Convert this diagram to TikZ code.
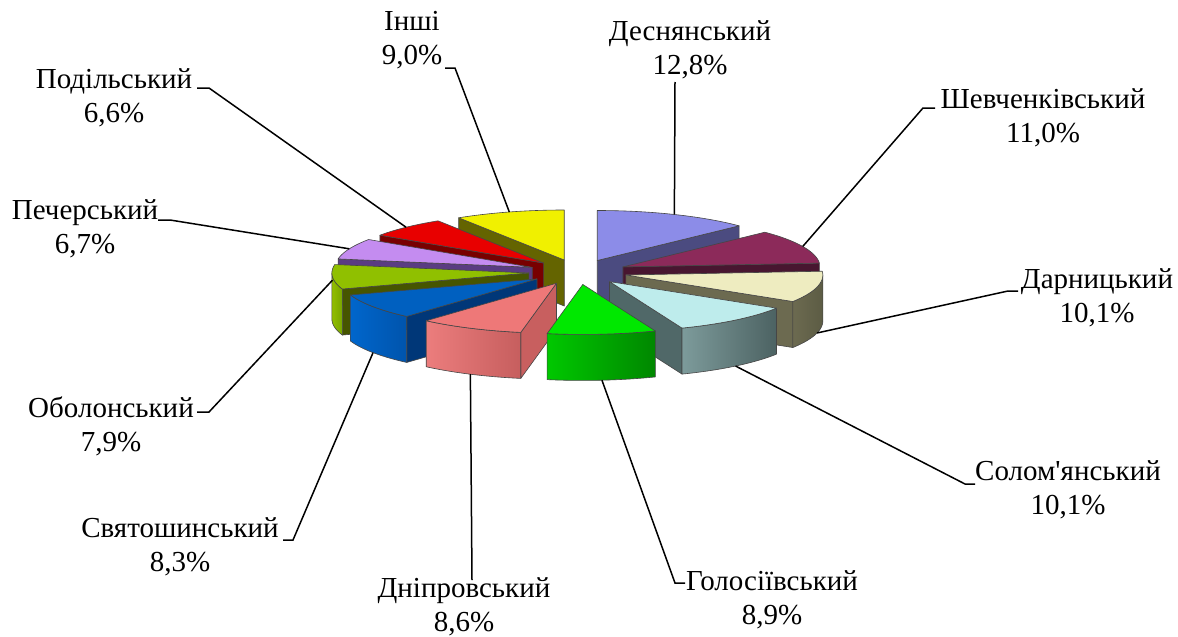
\documentclass[tikz,border=0pt]{standalone}
\usepackage{fontspec}
\setmainfont{Liberation Serif}
\newcommand\straightapos{{\XeTeXglyph\the\XeTeXcharglyph"27\relax}}
\definecolor{edge}{RGB}{70,70,70}
\definecolor{desTop}{RGB}{140,140,232}\definecolor{desSide}{RGB}{75,75,128}
\definecolor{shevTop}{RGB}{140,42,90}\definecolor{shevSide}{RGB}{72,22,48}
\definecolor{darTop}{RGB}{238,236,192}\definecolor{darSide}{RGB}{108,106,80}\definecolor{darWallR}{RGB}{92,92,68}
\definecolor{solTop}{RGB}{190,236,236}\definecolor{solSide}{RGB}{80,104,104}\definecolor{solWallL}{RGB}{125,155,155}\definecolor{solWallR}{RGB}{76,98,98}
\definecolor{golTop}{RGB}{0,232,0}\definecolor{golWallL}{RGB}{0,200,0}\definecolor{golWallR}{RGB}{0,135,0}
\definecolor{dniTop}{RGB}{238,120,120}\definecolor{dniSide}{RGB}{200,95,95}\definecolor{dniWallL}{RGB}{236,125,125}\definecolor{dniWallR}{RGB}{198,94,94}
\definecolor{svyTop}{RGB}{0,96,192}\definecolor{svySide}{RGB}{0,55,120}\definecolor{svyWallL}{RGB}{0,102,204}\definecolor{svyWallR}{RGB}{0,84,172}
\definecolor{oboTop}{RGB}{144,192,0}\definecolor{oboSide}{RGB}{70,85,0}\definecolor{oboWallL}{RGB}{146,190,0}\definecolor{oboWallR}{RGB}{120,165,0}
\definecolor{pechTop}{RGB}{196,140,240}\definecolor{pechSide}{RGB}{90,60,130}
\definecolor{podTop}{RGB}{232,0,0}\definecolor{podSide}{RGB}{120,0,0}
\definecolor{inTop}{RGB}{240,240,0}\definecolor{inSide}{RGB}{100,100,0}
\tikzset{
  face/.style={draw=edge,line width=0.6pt,line join=round},
  lbl/.style={font=\fontsize{29}{34}\selectfont,align=center,inner sep=0pt},
  leader/.style={draw=black,line width=1.5pt}
}
\def\cx{578}\def\cy{272}\def\rx{197}\def\ry{50}\def\h{46}\def\ex{0.25}
% #1 start, #2 end, #3 top, #4 side face, #5 wall left, #6 wall right, #7 coord name, #8 leader fraction
\newcommand\pieslice[8]{%
  \pgfmathsetmacro\mm{(#1+#2)/2}%
  \pgfmathsetmacro\ax{\cx+\ex*\rx*sin(\mm)}%
  \pgfmathsetmacro\ay{\cy-\ex*\ry*cos(\mm)}%
  \pgfmathparse{sin(#1)<-0.001?1:0}%
  \ifnum\pgfmathresult=1
    \fill[#4,face] (\ax,\ay) -- ({\ax+\rx*sin(#1)},{\ay-\ry*cos(#1)}) -- ++(0,\h) -- ({\ax},{\ay+\h}) -- cycle;
  \fi
  \pgfmathparse{sin(#2)>0.001?1:0}%
  \ifnum\pgfmathresult=1
    \fill[#4,face] (\ax,\ay) -- ({\ax+\rx*sin(#2)},{\ay-\ry*cos(#2)}) -- ++(0,\h) -- ({\ax},{\ay+\h}) -- cycle;
  \fi
  \pgfmathsetmacro\wa{max(#1,90)}%
  \pgfmathsetmacro\wb{min(#2,270)}%
  \pgfmathparse{\wb>\wa+0.01?1:0}%
  \ifnum\pgfmathresult=1
    \shadedraw[left color=#5,right color=#6,face] plot[domain=\wa:\wb,samples=40] ({\ax+\rx*sin(\x)},{\ay-\ry*cos(\x)}) -- plot[domain=\wb:\wa,samples=40] ({\ax+\rx*sin(\x)},{\ay+\h-\ry*cos(\x)}) -- cycle;
  \fi
  \fill[#3,face] (\ax,\ay) -- plot[domain=#1:#2,samples=40] ({\ax+\rx*sin(\x)},{\ay-\ry*cos(\x)}) -- cycle;
  \coordinate (#7) at ({\ax+\rx*sin(\mm)},{\ay-\ry*cos(\mm)+#8*\h});
}
\begin{document}
\begin{tikzpicture}[x=1pt,y=-1pt]
\useasboundingbox (0,0) rectangle (1178,637);
\fill[white] (0,0) rectangle (1178,637);
% slices, back to front
\pieslice{327.6}{360}{inTop}{inSide}{inSide}{inSide}{pIn}{0}
\pieslice{0}{46.08}{desTop}{desSide}{desSide}{desSide}{pDes}{0}
\pieslice{303.84}{327.6}{podTop}{podSide}{podSide}{podSide}{pPod}{0}
\pieslice{46.08}{85.68}{shevTop}{shevSide}{shevSide}{shevSide}{pShev}{0}
\pieslice{279.72}{303.84}{pechTop}{pechSide}{pechSide}{pechSide}{pPech}{0}
\pieslice{251.28}{279.72}{oboTop}{oboSide}{oboWallL}{oboWallR}{pObo}{0.07}
\pieslice{85.68}{122.04}{darTop}{darSide}{darSide}{darWallR}{pDar}{1}
\pieslice{221.4}{251.28}{svyTop}{svySide}{svyWallL}{svyWallR}{pSvy}{1}
\pieslice{122.04}{158.4}{solTop}{solSide}{solWallL}{solWallR}{pSol}{1}
\pieslice{190.44}{221.4}{dniTop}{dniSide}{dniWallL}{dniWallR}{pDni}{1}
\pieslice{158.4}{190.44}{golTop}{golTop}{golWallL}{golWallR}{pGol}{1}
% labels
\node[lbl] (lIn)   at (412,40)  {Інші\\9,0\%};
\node[lbl] (lDes)  at (690,50)  {Деснянський\\12,8\%};
\node[lbl] (lShev) at (1043,118) {Шевченківський\\11,0\%};
\node[lbl] (lDar)  at (1097,298) {Дарницький\\10,1\%};
\node[lbl] (lSol)  at (1068,490) {Солом\straightapos янський\\10,1\%};
\node[lbl] (lGol)  at (772,600) {Голосіївський\\8,9\%};
\node[lbl] (lDni)  at (464,607) {Дніпровський\\8,6\%};
\node[lbl] (lSvy)  at (180,547) {Святошинський\\8,3\%};
\node[lbl] (lObo)  at (111,426) {Оболонський\\7,9\%};
\node[lbl] (lPech) at (85,229)  {Печерський\\6,7\%};
\node[lbl] (lPod)  at (114,98)  {Подільський\\6,6\%};
% leader start points
\coordinate (tIn)   at (445,68);
\coordinate (tDes)  at (675,82);
\coordinate (tShev) at (935,108);
\coordinate (tDar)  at (1018,291);
\coordinate (tSol)  at (975,484);
\coordinate (tGol)  at (685,583);
\coordinate (tDni)  at (472,580);
\coordinate (tSvy)  at (283,540);
\coordinate (tObo)  at (197,412);
\coordinate (tPech) at (158,220);
\coordinate (tPod)  at (197,88);
\draw[leader] (tIn) -- ++(10,0) -- (pIn);
\draw[leader] (tDes) -- (pDes);
\draw[leader] (tShev) -- ++(-12,0) -- (pShev);
\draw[leader] (tDar) -- ++(-10,0) -- (pDar);
\draw[leader] (tSol) -- ++(-10,0) -- (pSol);
\draw[leader] (tGol) -- ++(-10,0) -- (pGol);
\draw[leader] (tDni) -- (pDni);
\draw[leader] (tSvy) -- ++(10,0) -- (pSvy);
\draw[leader] (tObo) -- ++(12,0) -- (pObo);
\draw[leader] (tPech) -- ++(12,0) -- (pPech);
\draw[leader] (tPod) -- ++(12,0) -- (pPod);
\end{tikzpicture}
\end{document}
